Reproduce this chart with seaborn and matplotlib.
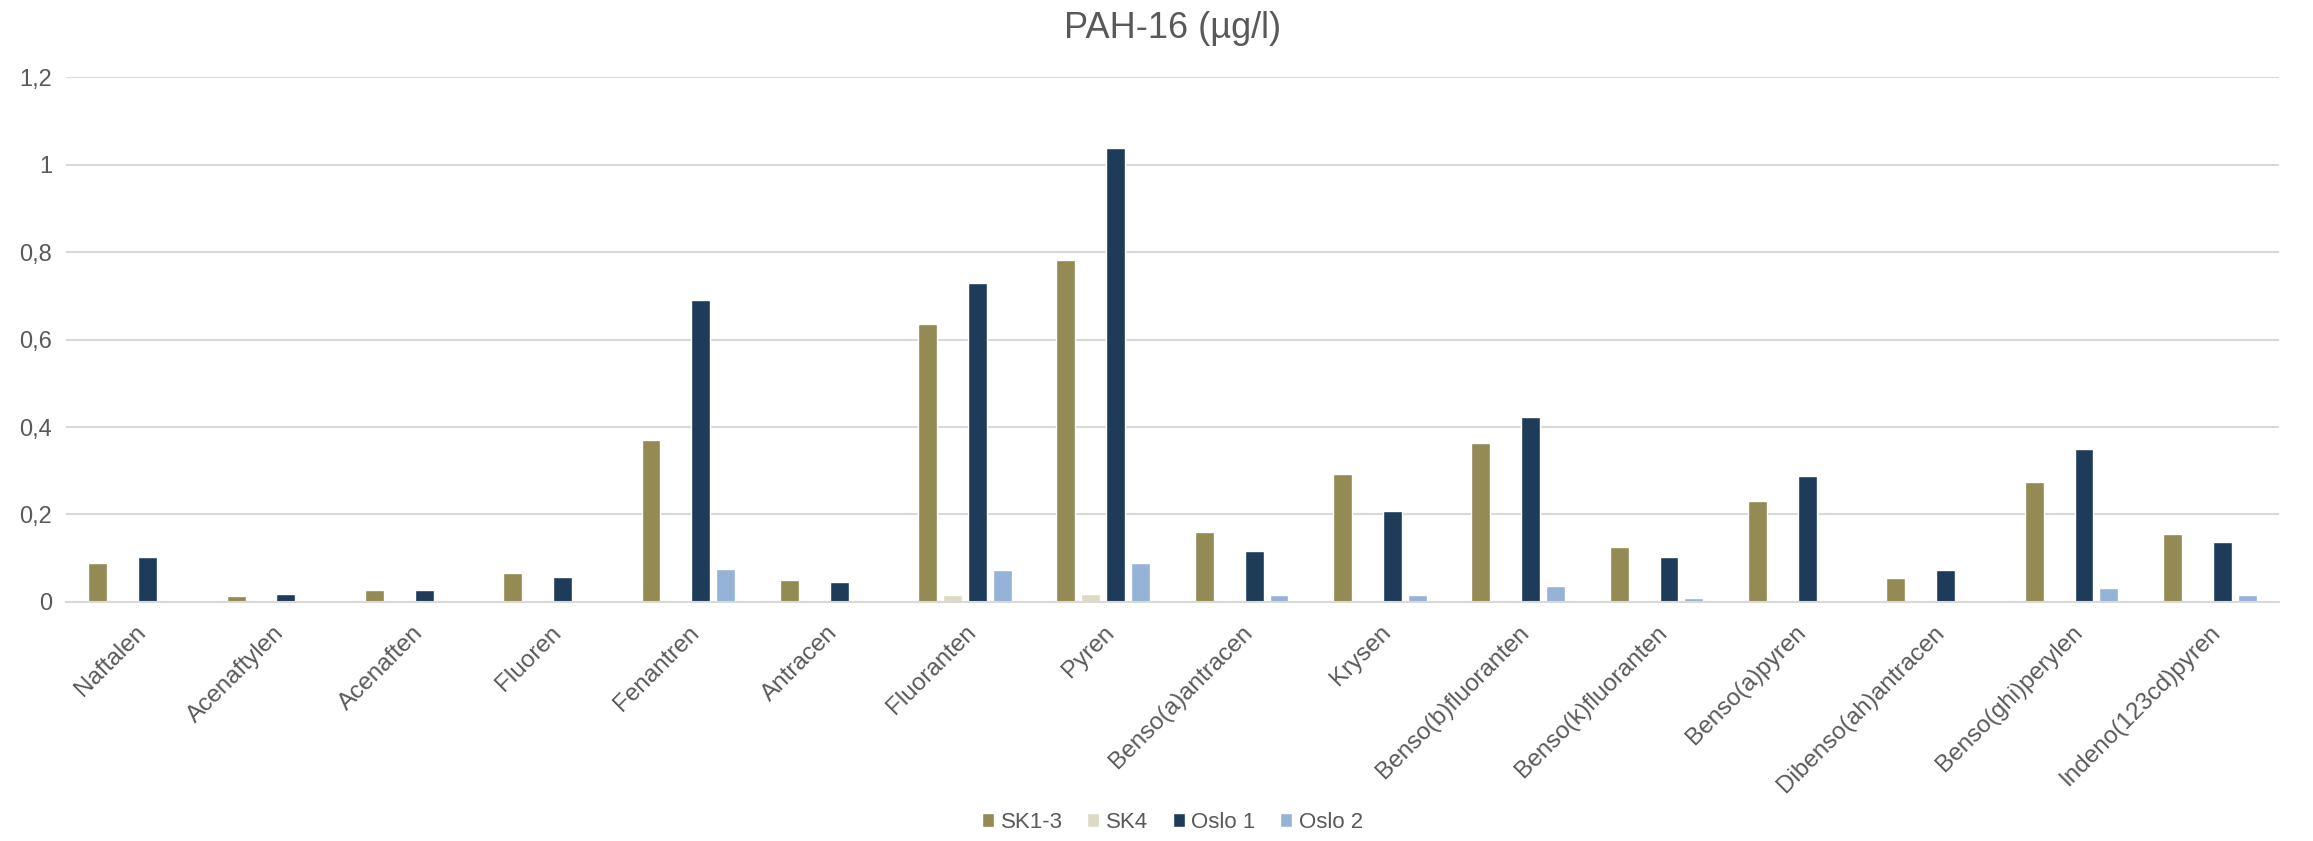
import matplotlib
matplotlib.use("Agg")
import matplotlib.pyplot as plt
import seaborn as sns
import pandas as pd

# PAH-16 concentrations (ug/l) per compound and sampling site
compounds = ["Naftalen", "Acenaftylen", "Acenaften", "Fluoren", "Fenantren",
             "Antracen", "Fluoranten", "Pyren", "Benso(a)antracen", "Krysen",
             "Benso(b)fluoranten", "Benso(k)fluoranten", "Benso(a)pyren",
             "Dibenso(ah)antracen", "Benso(ghi)perylen", "Indeno(123cd)pyren"]
sk1_3 = [0.090, 0.014, 0.028, 0.067, 0.371, 0.050, 0.636, 0.781, 0.160, 0.292,
         0.363, 0.125, 0.230, 0.054, 0.275, 0.155]
sk4 = [0, 0, 0, 0, 0, 0, 0.015, 0.019, 0, 0, 0, 0, 0, 0, 0, 0]
oslo1 = [0.103, 0.019, 0.028, 0.058, 0.690, 0.046, 0.729, 1.038, 0.116, 0.208,
         0.424, 0.103, 0.288, 0.072, 0.350, 0.138]
oslo2 = [0, 0, 0, 0, 0.076, 0, 0.072, 0.089, 0.015, 0.015, 0.037, 0.010, 0,
         0, 0.032, 0.015]
series = ["SK1-3", "SK4", "Oslo 1", "Oslo 2"]
colors = ["#948A54", "#DDD9C4", "#1F3B5A", "#95B3D7"]
yticks = [0, 0.2, 0.4, 0.6, 0.8, 1.0, 1.2]
ytick_labels = ["0", "0,2", "0,4", "0,6", "0,8", "1", "1,2"]

df = pd.DataFrame({
    "compound": compounds * 4,
    "site": [s for s in series for _ in compounds],
    "value": sk1_3 + sk4 + oslo1 + oslo2,
})

sns.set_style("white")
plt.rcParams["font.family"] = ["Liberation Sans", "DejaVu Sans"]
text_grey = "#595959"

fig = plt.figure(figsize=(23.13, 8.41), dpi=100)
ax = fig.add_axes([0.0285, 0.2842, 0.9568, 0.6242])

sns.barplot(data=df, x="compound", y="value", hue="site", order=compounds,
            hue_order=series, palette=colors, width=0.72, gap=0.24,
            saturation=1, ax=ax)

ax.set_ylim(0, 1.2)
ax.set_xlim(-0.5, len(compounds) - 0.5)
ax.set_yticks(yticks)
ax.set_yticklabels(ytick_labels, fontsize=17, color=text_grey)
ax.set_xticks(range(len(compounds)))
ax.set_xticklabels(compounds, rotation=45, ha="right", rotation_mode="anchor",
                   fontsize=17.5, color=text_grey)
ax.tick_params(axis="x", length=0, pad=14)
ax.tick_params(axis="y", length=0, pad=10)
ax.yaxis.grid(True, color="#D9D9D9", linewidth=1.5)
ax.set_axisbelow(True)
for side in ["left", "right", "top"]:
    ax.spines[side].set_visible(False)
ax.spines["bottom"].set_color("#D9D9D9")
ax.spines["bottom"].set_linewidth(1.5)
ax.set_xlabel("")
ax.set_ylabel("")

ax.set_title("PAH-16 (µg/l)", fontsize=26, color=text_grey, pad=28)

handles, labels = ax.get_legend_handles_labels()
ax.legend(handles, labels, loc="center", bbox_to_anchor=(0.5, -0.42),
          ncol=4, frameon=False, fontsize=16, labelcolor=text_grey,
          handlelength=0.55, handleheight=0.55, handletextpad=0.3,
          columnspacing=1.1)

plt.savefig("out.png", dpi=100)
